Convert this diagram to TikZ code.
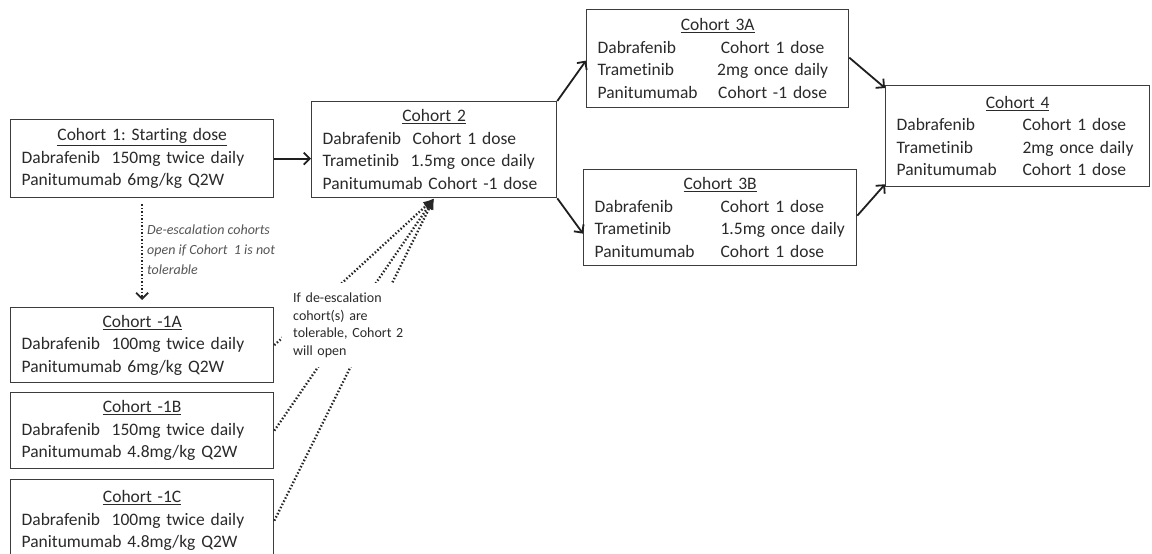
\documentclass[tikz,border=0pt]{standalone}
\usepackage{fontspec}
\setmainfont{Carlito}[Ligatures=NoCommon]
\usetikzlibrary{arrows.meta}
\definecolor{ink}{HTML}{2A2A2A}
\definecolor{frame}{HTML}{3C3C3C}
\definecolor{remark}{HTML}{555555}
\newcommand\ctitle[1]{\makebox[\hsize]{\underline{#1}}}
\newcommand\dose[3]{\makebox[#1][l]{#2}#3}
\frenchspacing
\begin{document}
\begin{tikzpicture}[x=1pt,y=-1pt,
  font=\fontsize{17.5}{22.5}\selectfont, text=ink,
  cbox/.style={draw=frame, line width=1.3pt, fill=white, anchor=north west,
    align=left, inner xsep=11pt, inner ysep=0pt},
  flow/.style={draw=black!88, line width=1.8pt,
    -{Straight Barb[length=6pt,width=12pt]}},
  deesc/.style={draw=black!85, line width=2.3pt, dash pattern=on 1.5pt off 2pt},
  remarktext/.style={font=\itshape\fontsize{14}{20}\selectfont, text=remark,
    align=left, inner sep=0pt, anchor=west},
  notetext/.style={font=\fontsize{14}{17.5}\selectfont,
    fill=white, align=left, anchor=north west, inner xsep=11pt, inner ysep=0pt,
    text width=112pt, minimum width=134pt, minimum height=84pt}]
\clip (0,0) rectangle (1152,554);
\fill[white] (0,0) rectangle (1152,554);

% starting dose and de-escalation cohorts
\node[cbox, text width=241pt, minimum width=263pt, minimum height=78pt] (c1) at (10,119)
  {\ctitle{Cohort 1: Starting dose}\\
   Dabrafenib~~150mg twice daily\\
   Panitumumab 6mg/kg Q2W};
\node[cbox, text width=241pt, minimum width=263pt, minimum height=75pt] (cm1a) at (10,307)
  {\ctitle{Cohort -1A}\\
   Dabrafenib~~100mg twice daily\\
   Panitumumab 6mg/kg Q2W};
\node[cbox, text width=241pt, minimum width=263pt, minimum height=76pt] (cm1b) at (10,392)
  {\ctitle{Cohort -1B}\\
   Dabrafenib~~150mg twice daily\\
   Panitumumab 4.8mg/kg Q2W};
\node[cbox, text width=241pt, minimum width=263pt, minimum height=82pt] (cm1c) at (10,479)
  {\ctitle{Cohort -1C}\\
   Dabrafenib~~100mg twice daily\\
   Panitumumab 4.8mg/kg Q2W};

% escalation cohorts
\node[cbox, text width=223pt, minimum width=245pt, minimum height=96pt] (c2) at (311,101)
  {\ctitle{Cohort 2}\\
   Dabrafenib~~Cohort 1 dose\\
   Trametinib~~1.5mg once daily\\
   Panitumumab Cohort -1 dose};
\node[cbox, text width=240pt, minimum width=262pt, minimum height=98pt] (c3a) at (586,9)
  {\ctitle{Cohort 3A}\\
   \dose{125pt}{Dabrafenib}{\makebox[100pt]{Cohort 1 dose}}\\
   \dose{125pt}{Trametinib}{\makebox[100pt]{2mg once daily}}\\
   \dose{125pt}{Panitumumab}{\makebox[100pt]{Cohort -1 dose}}};
\node[cbox, text width=251pt, minimum width=273pt, minimum height=96pt] (c3b) at (583,169)
  {\ctitle{Cohort 3B}\\
   \dose{126pt}{Dabrafenib}{Cohort 1 dose}\\
   \dose{126pt}{Trametinib}{1.5mg once daily}\\
   \dose{126pt}{Panitumumab}{Cohort 1 dose}};
\node[cbox, text width=242pt, minimum width=264pt, minimum height=101pt] (c4) at (885,85)
  {\ctitle{Cohort 4}\\
   \dose{126pt}{Dabrafenib}{Cohort 1 dose}\\
   \dose{126pt}{Trametinib}{2mg once daily}\\
   \dose{126pt}{Panitumumab}{Cohort 1 dose}};

% escalation arrows
\draw[flow] (c1.east) -- (c1.east -| c2.west);
\draw[flow] (c2.north east) -- ([yshift=-2pt]c3a.west);
\draw[flow] (c2.south east) -- ([yshift=-16pt]c3b.west);
\draw[flow] ([yshift=1pt]c3a.east) -- ([yshift=-3pt]c4.north west);
\draw[flow] ([yshift=2pt]c3b.east) -- ([yshift=3pt]c4.south west);

% de-escalation path
\draw[deesc, -{Straight Barb[length=6pt,width=12pt,line width=1.8pt]}]
  ([yshift=-6pt]c1.south) -- ([yshift=7pt]cm1a.north);
\node[remarktext] (deesclabel) at (147,250)
  {De-escalation cohorts\\ open if Cohort~~1 is not\\ tolerable};

\foreach \src in {cm1a,cm1b,cm1c}
  \draw[deesc, -{Latex[length=11pt,width=10pt]}] (\src.east) -- (c2.south);
\node[notetext] (opennote) at (282,283)
  {\hyphenpenalty=10000\relax If de-escalation\\ cohort(s) are\\
   tolerable, Cohort 2\\ will open};
\end{tikzpicture}
\end{document}
